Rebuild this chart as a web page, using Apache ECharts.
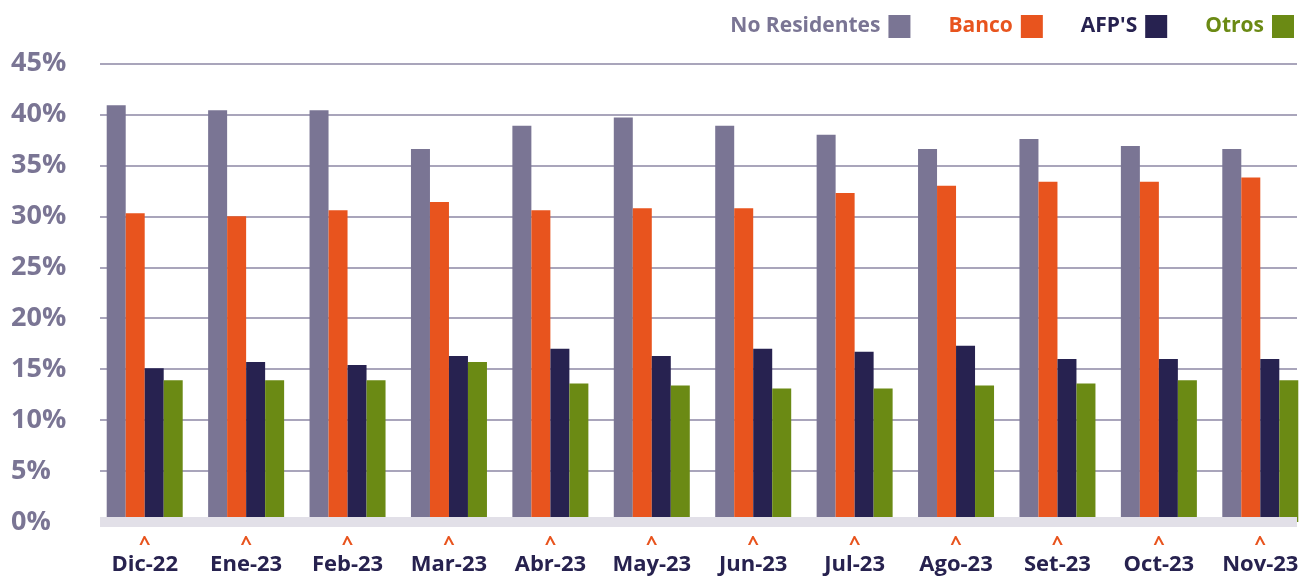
<!DOCTYPE html>
<html>
<head>
<meta charset="utf-8">
<script src="https://cdn.jsdelivr.net/npm/echarts@6/dist/echarts.min.js"></script>
<style>
html,body{margin:0;padding:0;background:#fff;}
#chart{width:1311px;height:576px;}
</style>
</head>
<body>
<div id="chart"></div>
<script>
const categories = ['Dic-22','Ene-23','Feb-23','Mar-23','Abr-23','May-23','Jun-23','Jul-23','Ago-23','Set-23','Oct-23','Nov-23'];
const noResidentes = [40.9,40.4,40.4,36.6,38.9,39.7,38.9,38.0,36.6,37.6,36.9,36.6];
const banco = [30.3,30.0,30.6,31.4,30.6,30.8,30.8,32.3,33.0,33.4,33.4,33.8];
const afps = [15.1,15.7,15.4,16.3,17.0,16.3,17.0,16.7,17.3,16.0,16.0,16.0];
const otros = [13.9,13.9,13.9,15.7,13.6,13.4,13.1,13.1,13.4,13.6,13.9,13.9];
const seriesNames = ['No Residentes','Banco',"AFP'S",'Otros'];
const colors = ['#7a7594','#e8541e','#272250','#6b8a14'];
const yMin = 0, yMax = 45, yStep = 5;

const FONT = 'Open Sans';
const chart = echarts.init(document.getElementById('chart'), null, {renderer:'canvas'});
const values = [noResidentes, banco, afps, otros];

chart.setOption({
  animation:false,
  backgroundColor:'#fff',
  color: colors,
  legend:{
    right:12, top:10,
    align:'right',
    itemWidth:22, itemHeight:23, itemGap:38,
    icon:'rect',
    textStyle:{fontFamily:FONT, fontWeight:'bold', fontSize:21, padding:[0,3,0,0]},
    data: seriesNames.map((n,i)=>({name:n, textStyle:{color:colors[i]}}))
  },
  grid:[
    {left:94, right:0, top:63.5, bottom:54},
    {left:100, right:14, top:63.5, bottom:54}
  ],
  xAxis:[
    {type:'category', gridIndex:0, data:categories,
     axisLine:{show:false}, axisTick:{show:false},
     axisLabel:{margin:15, interval:0,
       formatter: v => '{c|^}\n{l|' + v + '}',
       rich:{
         c:{color:'#e8541e', fontFamily:FONT, fontWeight:'bold', fontSize:20, lineHeight:15, align:'center'},
         l:{color:'#27224f', fontFamily:FONT, fontWeight:'bold', fontSize:22, lineHeight:25, align:'center'}
       }}},
    {type:'category', gridIndex:1, data:categories, z:10,
     axisLine:{show:true, lineStyle:{color:'#e2e0e8', width:10, cap:'butt'}},
     axisTick:{show:false}, axisLabel:{show:false}}
  ],
  yAxis:[
    {type:'value', gridIndex:0, min:yMin, max:yMax, interval:yStep, show:false, splitLine:{show:false}},
    {type:'value', gridIndex:1, min:yMin, max:yMax, interval:yStep,
     axisLine:{show:false}, axisTick:{show:false},
     splitLine:{lineStyle:{color:'#a9a5bb', width:2}},
     axisLabel:{formatter:'{value}%', align:'left', margin:89,
       color:'#7a7594', fontFamily:FONT, fontWeight:'bold', fontSize:27}}
  ],
  series: seriesNames.map((n,i)=>({
    name:n, type:'bar', xAxisIndex:0, yAxisIndex:0,
    data: values[i], barWidth:19, barGap:'0%',
    itemStyle:{color:colors[i]}
  }))
});
</script>
</body>
</html>
